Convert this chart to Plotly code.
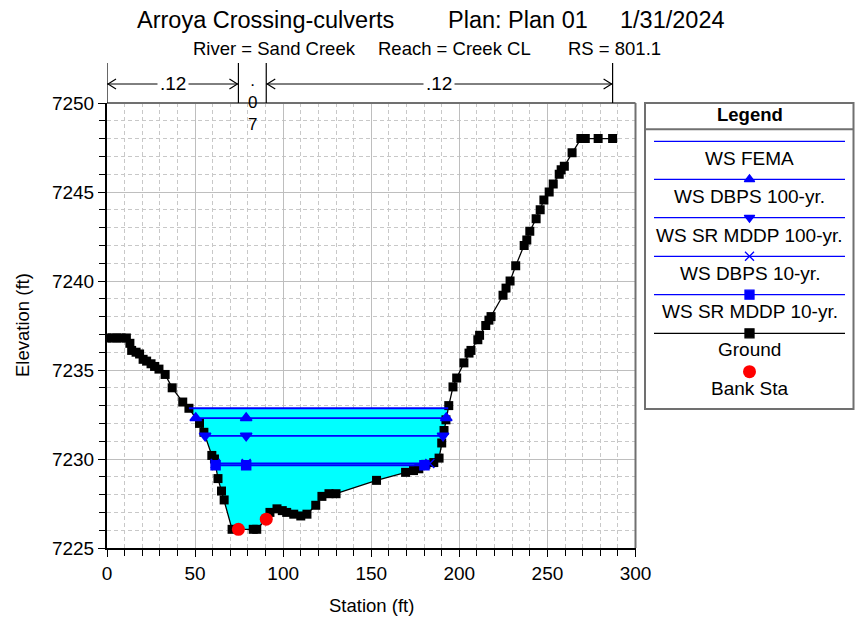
import plotly.graph_objects as go

W, H = 855, 621

# ---------------- data ----------------
title_parts = ["Arroya Crossing-culverts", "Plan: Plan 01", "1/31/2024"]
subtitle_parts = ["River = Sand Creek", "Reach = Creek CL", "RS = 801.1"]

ground_sta = [0, 3, 5.5, 8, 11, 13, 14, 16.5, 18.5, 20.5, 22.5, 25, 27, 29.5, 33, 37, 43, 46.5,
              52.5, 55, 59.5, 61, 63, 65, 66.5, 71, 74.6, 83, 85, 90.4, 92.5, 96.5, 99.5, 102,
              106, 110, 113.5, 118.5, 122, 126, 130, 153, 169.5, 174, 177, 181, 185.5, 188.5,
              190, 191.3, 192.4, 194, 196.4, 198.5, 202.6, 205.5, 206.6, 210.5, 211.5, 215,
              216.8, 218, 224.8, 226.5, 228.8, 232, 236.8, 238.3, 240, 243.6, 245.9, 248, 251,
              253.3, 256.7, 257.8, 259.6, 264, 269, 271.5, 278.8, 287]
ground_elev = [7236.8, 7236.8, 7236.8, 7236.8, 7236.8, 7236.5, 7236.1, 7236.0, 7235.9, 7235.6,
               7235.5, 7235.35, 7235.2, 7235.05, 7234.75, 7234.0, 7233.2, 7232.85,
               7232.0, 7231.5, 7230.2, 7230.0, 7228.9, 7228.2, 7227.7, 7226.05, 7226.05,
               7226.05, 7226.05, 7226.62, 7227.0, 7227.2, 7227.1, 7227.0,
               7226.9, 7226.8, 7226.9, 7227.4, 7227.9, 7228.05, 7228.05, 7228.8, 7229.25,
               7229.35, 7229.45, 7229.7, 7229.8, 7230.05,
               7230.9, 7231.6, 7232.2, 7233.0, 7234.05, 7234.55, 7235.4, 7235.95, 7236.1,
               7236.7, 7236.95, 7237.5,
               7237.8, 7238.0, 7239.2, 7239.6, 7240.0, 7240.85, 7242.0, 7242.3, 7242.8,
               7243.5, 7244.0, 7244.55, 7245.0,
               7245.45, 7246.0, 7246.25, 7246.45, 7247.2, 7248.0, 7248.0, 7248.0, 7248.0]

bank_sta = [74.6, 90.4]
bank_elev = [7226.05, 7226.62]

ws_names = ["WS FEMA", "WS DBPS 100-yr.", "WS SR MDDP 100-yr.", "WS DBPS 10-yr.", "WS SR MDDP 10-yr."]
ws_elev = [7232.85, 7232.3, 7231.3, 7229.75, 7229.65]
ws_symbols = [None, "triangle-up", "triangle-down", "x-thin", "square"]
ws_mid_sta = 79

mann_n = [".12", ".07", ".12"]

x_ticks = [0, 50, 100, 150, 200, 250, 300]
y_ticks = [7225, 7230, 7235, 7240, 7245, 7250]

FONT = "Liberation Sans, Arial, sans-serif"
BLUE = "#0000FF"


def fx(p):
    return p / W


def fy(p):
    return 1 - p / H


def interp_x(a, b, z):
    ea, eb = ground_elev[a], ground_elev[b]
    if eb == ea:
        return ground_sta[a]
    return ground_sta[a] + (z - ea) / (eb - ea) * (ground_sta[b] - ground_sta[a])


def crossings(z):
    imin = min(range(len(ground_elev)), key=lambda i: ground_elev[i])
    i = imin
    while ground_elev[i - 1] < z:
        i -= 1
    xl = interp_x(i - 1, i, z)
    j = imin
    while ground_elev[j + 1] < z:
        j += 1
    xr = interp_x(j, j + 1, z)
    return xl, xr, i, j


fig = go.Figure()

# water fill (highest WS)
zmax = max(ws_elev)
xl, xr, il, ir = crossings(zmax)
poly_x = [xl] + ground_sta[il:ir + 1] + [xr, xl]
poly_y = [zmax] + ground_elev[il:ir + 1] + [zmax, zmax]
fig.add_trace(go.Scatter(x=poly_x, y=poly_y, fill="toself", fillcolor="#00FFFF",
                         line=dict(width=0), mode="lines", hoverinfo="skip", showlegend=False))

# ground
fig.add_trace(go.Scatter(x=ground_sta, y=ground_elev, mode="lines+markers",
                         line=dict(color="black", width=1.3),
                         marker=dict(symbol="square", size=9, color="black"),
                         showlegend=False))

# water surfaces
for name, z, sym in zip(ws_names, ws_elev, ws_symbols):
    a, b, _, _ = crossings(z)
    fig.add_trace(go.Scatter(x=[a, b], y=[z, z], mode="lines", line=dict(color=BLUE, width=1.8),
                             showlegend=False))
    if sym:
        fig.add_trace(go.Scatter(x=[a, ws_mid_sta, b], y=[z, z, z], mode="markers",
                                 marker=dict(symbol=sym, size=10 if "triangle" in sym else 9, color=BLUE,
                                             line=dict(color=BLUE, width=1.5)),
                                 showlegend=False))

# bank stations
fig.add_trace(go.Scatter(x=bank_sta, y=bank_elev, mode="markers",
                         marker=dict(symbol="circle", size=13, color="#FF0000"), showlegend=False))

shapes = []
annotations = []

# frame top / right
shapes.append(dict(type="line", xref="paper", yref="paper", x0=fx(107), x1=fx(635.5), y0=fy(103), y1=fy(103),
                   line=dict(color="#707070", width=2)))
shapes.append(dict(type="line", xref="paper", yref="paper", x0=fx(635.5), x1=fx(635.5), y0=fy(103), y1=fy(548),
                   line=dict(color="#707070", width=2)))

# Manning's n regions
breaks = [ground_sta[0], bank_sta[0], bank_sta[1], ground_sta[-1]]
ya = fy(84)
for s in breaks:
    shapes.append(dict(type="line", xref="x", yref="paper", x0=s, x1=s, y0=fy(103), y1=fy(63),
                       line=dict(color="black", width=1.2)))
for k, n in enumerate(mann_n):
    a, b = breaks[k], breaks[k + 1]
    mid = (a + b) / 2
    if k == 1:
        annotations.append(dict(x=mid, y=fy(103), xref="x", yref="paper", text="<br>".join(n),
                                showarrow=False, font=dict(size=17, color="black", family=FONT),
                                xanchor="center", yanchor="middle"))
        continue
    shapes.append(dict(type="line", xref="x", yref="paper", x0=a, x1=b, y0=ya, y1=ya,
                       line=dict(color="black", width=1)))
    shapes.append(dict(type="path", xref="x", yref="paper", xsizemode="pixel", ysizemode="pixel",
                       xanchor=a, yanchor=ya, path="M 9,5 L 1,0 L 9,-5", line=dict(color="black", width=1.2)))
    shapes.append(dict(type="path", xref="x", yref="paper", xsizemode="pixel", ysizemode="pixel",
                       xanchor=b, yanchor=ya, path="M -9,5 L -1,0 L -9,-5", line=dict(color="black", width=1.2)))
    annotations.append(dict(x=mid, y=ya, xref="x", yref="paper", text=n, showarrow=False, bgcolor="white",
                            borderpad=2, font=dict(size=19, color="black", family=FONT),
                            xanchor="center", yanchor="middle"))

# titles
for t, px in zip(title_parts, [135, 446, 618]):
    annotations.append(dict(x=fx(px), y=fy(20), xref="paper", yref="paper", text=t, showarrow=False,
                            xanchor="left", yanchor="middle", font=dict(size=23.5, color="black", family=FONT)))
for t, px in zip(subtitle_parts, [191, 376, 566]):
    annotations.append(dict(x=fx(px), y=fy(48.5), xref="paper", yref="paper", text=t, showarrow=False,
                            xanchor="left", yanchor="middle", font=dict(size=18.5, color="black", family=FONT)))

# axis titles
annotations.append(dict(x=fx(22), y=fy(325), xref="paper", yref="paper", text="Elevation (ft)", textangle=-90,
                        showarrow=False, xanchor="center", yanchor="middle",
                        font=dict(size=18.5, color="black", family=FONT)))
annotations.append(dict(x=fx(371), y=fy(605), xref="paper", yref="paper", text="Station (ft)",
                        showarrow=False, xanchor="center", yanchor="middle",
                        font=dict(size=18.5, color="black", family=FONT)))

# legend box
LX0, LX1, LY0, LY1 = 645, 853.5, 103, 409
shapes.append(dict(type="rect", xref="paper", yref="paper", x0=fx(LX0), x1=fx(LX1), y0=fy(LY0), y1=fy(LY1),
                   line=dict(color="#707070", width=2), fillcolor="white", layer="below"))
shapes.append(dict(type="line", xref="paper", yref="paper", x0=fx(LX0), x1=fx(LX1), y0=fy(129.3), y1=fy(129.3),
                   line=dict(color="#707070", width=2)))
lcx = (654 + 845) / 2
annotations.append(dict(x=fx(lcx), y=fy(115), xref="paper", yref="paper", text="<b>Legend</b>", showarrow=False,
                        xanchor="center", yanchor="middle", font=dict(size=18.5, color="black", family=FONT)))
line_ys = [141.3, 179.3, 217.7, 256.3, 294.7, 333.3]
text_ys = [158.3, 196.7, 235, 273.3, 311.7, 349.3, 388.3]
leg_names = ws_names + ["Ground", "Bank Sta"]
for k, ly in enumerate(line_ys):
    col = BLUE if k < len(ws_names) else "black"
    shapes.append(dict(type="line", xref="paper", yref="paper", x0=fx(654), x1=fx(845), y0=fy(ly), y1=fy(ly),
                       line=dict(color=col, width=1.3)))
for name, ty in zip(leg_names, text_ys):
    annotations.append(dict(x=fx(lcx), y=fy(ty), xref="paper", yref="paper", text=name, showarrow=False,
                            xanchor="center", yanchor="middle", font=dict(size=19, color="black", family=FONT)))
leg_sym = ws_symbols[1:] + ["square"]
leg_col = [BLUE] * 4 + ["black"]
for sym, col, ly in zip(leg_sym, leg_col, line_ys[1:]):
    fig.add_trace(go.Scatter(x=[lcx], y=[ly], xaxis="x3", yaxis="y3", mode="markers",
                             marker=dict(symbol=sym, size=9, color=col, line=dict(color=col, width=1.3)),
                             showlegend=False, hoverinfo="skip"))
fig.add_trace(go.Scatter(x=[lcx], y=[371.7], xaxis="x3", yaxis="y3", mode="markers",
                         marker=dict(symbol="circle", size=13, color="#FF0000"), showlegend=False, hoverinfo="skip"))

axis_common = dict(showgrid=True, gridcolor="#BEBEBE", gridwidth=1, ticks="outside", ticklen=7,
                   tickcolor="black", tickwidth=1, showline=True, linecolor="black", linewidth=2,
                   zeroline=False, tickfont=dict(size=19, color="black", family=FONT), layer="below traces",
                   automargin=False)

fig.update_layout(
    template="none",
    width=W, height=H, margin=dict(l=0, r=0, t=0, b=0, pad=0, autoexpand=False), autosize=False,
    paper_bgcolor="white", plot_bgcolor="rgba(0,0,0,0)", showlegend=False,
    xaxis=dict(domain=[fx(107), fx(635.5)], range=[0, 300], tickvals=x_ticks,
               minor=dict(dtick=10, tick0=0, showgrid=True, gridcolor="#C8C8C8", griddash="4px,3px",
                          ticks="outside", ticklen=6, tickcolor="black"),
               **axis_common),
    yaxis=dict(domain=[fy(548), fy(103)], range=[7225, 7250], tickvals=y_ticks, tickformat="d",
               minor=dict(dtick=1, tick0=7225, showgrid=True, gridcolor="#C8C8C8", griddash="4px,3px",
                          ticks="outside", ticklen=6, tickcolor="black"),
               **axis_common),
    xaxis3=dict(domain=[0, 1], range=[0, W], visible=False, fixedrange=True, automargin=False),
    yaxis3=dict(domain=[0, 1], range=[H, 0], visible=False, fixedrange=True, automargin=False),
    shapes=shapes, annotations=annotations,
)

fig.write_html("out.html", config={"displayModeBar": False},
               post_script="document.body.style.margin='0';document.body.style.overflow='hidden';")
